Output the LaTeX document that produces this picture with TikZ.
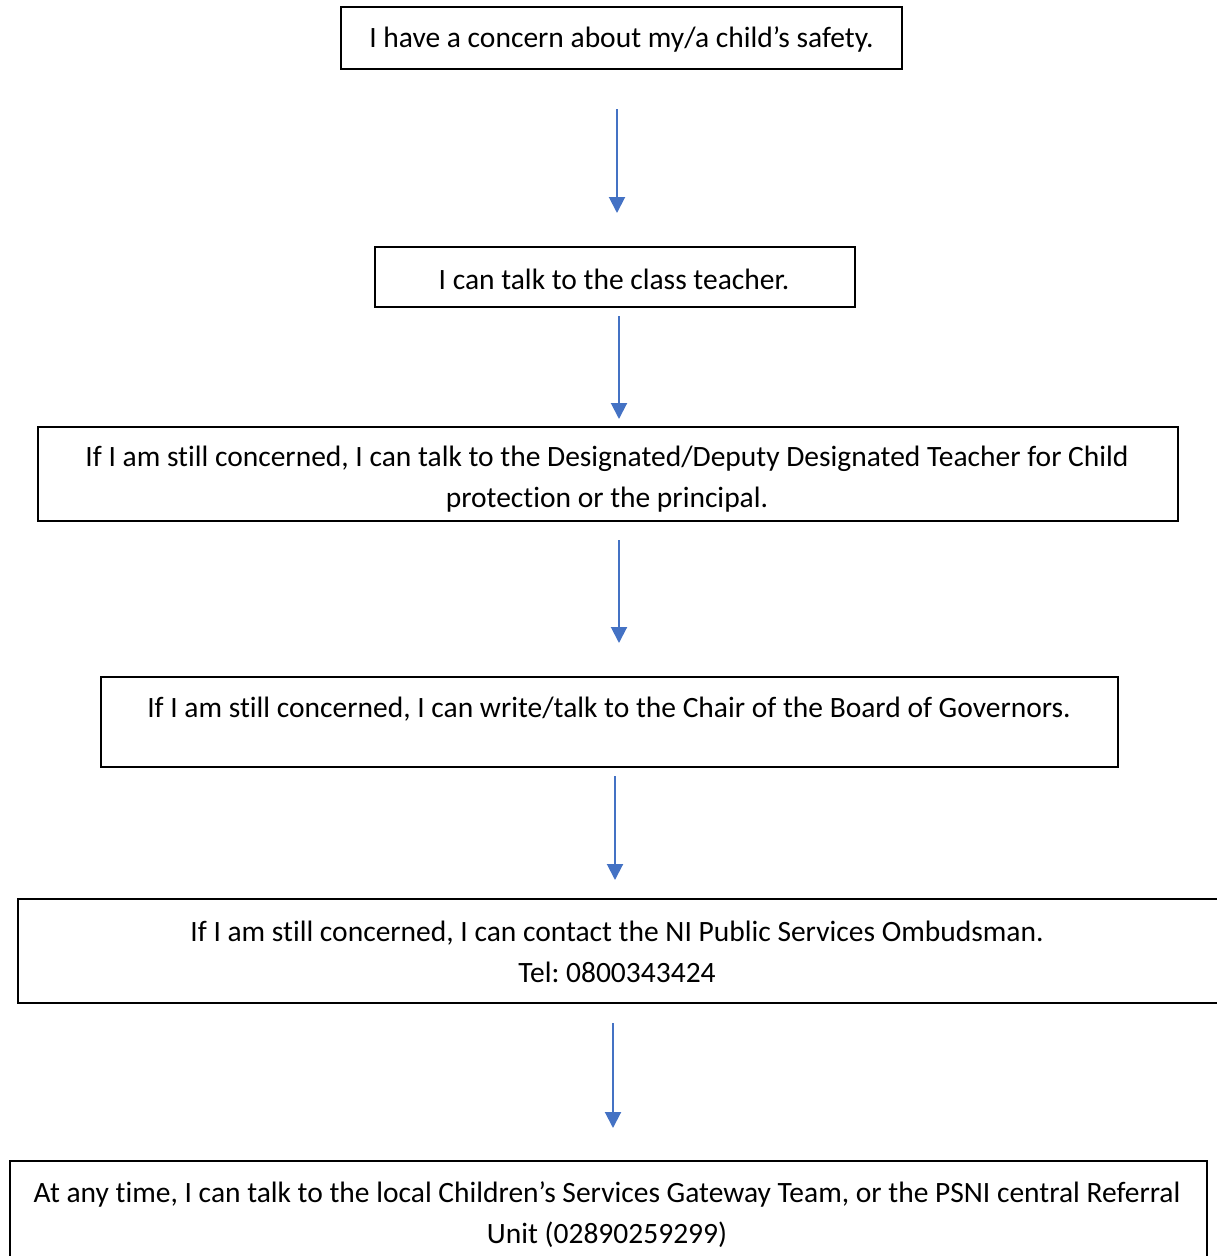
\documentclass[tikz,border=0pt]{standalone}
\usepackage{fontspec}
\setmainfont[Ligatures=NoCommon]{Carlito}
\usetikzlibrary{arrows.meta,calc}
\definecolor{arrblue}{RGB}{68,114,196}
\frenchspacing
\tikzset{
  box/.style={draw=black, line width=2pt, rectangle, inner sep=0pt},
  txt/.style={align=center, inner sep=0pt, font=\fontsize{29.5}{41}\selectfont},
  arr/.style={draw=arrblue, line width=2pt, -{Triangle[length=16pt,width=16pt]}}
}
\begin{document}
\begin{tikzpicture}[x=1pt,y=-1pt]
\useasboundingbox (0,0) rectangle (1216,1256);
% boxes
\node[box, minimum width=561, minimum height=62] (b1) at (621.5,38) {};
\node[box, minimum width=480, minimum height=60] (b2) at (615,277) {};
\node[box, minimum width=1140, minimum height=94] (b3) at (608,474) {};
\node[box, minimum width=1017, minimum height=90] (b4) at (609.5,722) {};
\node[box, minimum width=1232, minimum height=104] (b5) at (634,951) {};
\node[box, minimum width=1197, minimum height=130] (b6) at (608.5,1226) {};
% texts
\node[txt] (t1) at (621.5,39) {I have a concern about my/a child’s safety.};
\node[txt] (t2) at (614,279) {I can talk to the class teacher.};
\node[txt] (t3) at (607,479.5) {If I am still concerned, I can talk to the Designated/Deputy Designated Teacher for Child\\protection or the principal.};
\node[txt] (t4) at (609,709) {If I am still concerned, I can write/talk to the Chair of the Board of Governors.};
\node[txt] (t5) at (617,951.5) {If I am still concerned, I can contact the NI Public Services Ombudsman.\\Tel: 0800343424};
\node[txt] (t6) at (607,1214.5) {At any time, I can talk to the local Children’s Services Gateway Team, or the PSNI central Referral\\Unit (02890259299)};
% arrows
\draw[arr] ($(b1.south)+(-4.5,39)$) -- ($(b2.north)+(2,-33)$);
\draw[arr] ($(b2.south)+(4,8)$) -- ($(b3.north)+(11,-7)$);
\draw[arr] ($(b3.south)+(11,18)$) -- ($(b4.north)+(9.5,-33)$);
\draw[arr] ($(b4.south)+(5.5,8)$) -- ($(b5.north)+(-19,-18)$);
\draw[arr] ($(b5.south)+(-21,19)$) -- ($(b6.north)+(4.5,-32)$);
\end{tikzpicture}
\end{document}
